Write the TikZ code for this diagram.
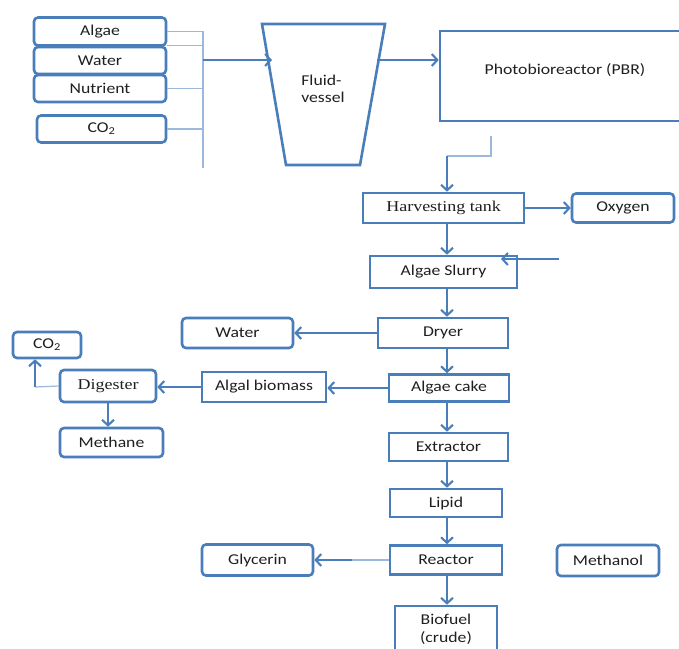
\documentclass[tikz,border=0pt]{standalone}
\usepackage{fontspec}
\setmainfont{Carlito}[FakeStretch=1.18]
\newfontfamily\timesfont{Liberation Serif}[FakeStretch=1.2]
\usetikzlibrary{arrows.meta}
\definecolor{boxblue}{HTML}{4A7EBB}
\definecolor{lightblue}{HTML}{9BB8DD}

\begin{document}
\begin{tikzpicture}[x = 1pt , y = -1pt ,
    box/.style = {draw = boxblue , line width = 2.6pt , inner sep = 0pt , text = black!88 , font = \fontsize{15}{18}\selectfont},
    rbox/.style = {box , rounded corners = 4pt},
    flow/.style = {draw = boxblue , line width = 2.1pt , -{Straight Barb[length = 5.5pt , width = 12pt]}},
    thinline/.style = {draw = lightblue , line width = 1.2pt}]
    \useasboundingbox (0,0) rectangle (679,648);

    % inputs
    \node[rbox , minimum width = 132 , minimum height = 28] (algae) at (100,31.5) {Algae};
    \node[rbox , minimum width = 132 , minimum height = 27] (water) at (100,60.5) {Water};
    \node[rbox , minimum width = 132 , minimum height = 27] (nutrient) at (100,88.5) {Nutrient};
    \node[rbox , minimum width = 129 , minimum height = 27] (co2) at (101.5,129) {CO\textsubscript{2}};
    \coordinate (bustop) at (203,31);
    \coordinate (busend) at (203,168);
    \draw[thinline] (bustop) -- (busend);
    \draw[thinline] (algae.east) -- (algae.east -| bustop);
    \draw[thinline] (water.north east) -- (water.north east -| bustop);
    \draw[thinline] (nutrient.east) -- (nutrient.east -| bustop);
    \draw[thinline] (co2.east) -- (co2.east -| bustop);

    % vessel
    \draw[draw = boxblue , line width = 2.6pt] (262,24) -- (385,24) -- (360,165) -- (286,165) -- cycle;
    \node[align = left , text = black!88 , font = \fontsize{15}{17}\selectfont] (vessel) at (323,89) {Fluid-\\vessel};
    \coordinate (vesselin) at (272,60);
    \coordinate (vesselout) at (377,60);

    \node[box , minimum width = 250 , minimum height = 90 , text height = 11pt , text depth = 15pt] (pbr) at (565,76) {Photobioreactor (PBR)};

    \draw[flow] (bustop |- vesselin) -- (vesselin);
    \draw[flow] (vesselout) -- (vesselout -| pbr.west);

    % main column
    \coordinate (col) at (447,0);
    \node[box , minimum width = 161 , minimum height = 30 , font = \timesfont\fontsize{15}{18}\selectfont] (harvest) at (443.5,208) {Harvesting tank};
    \node[rbox , minimum width = 102 , minimum height = 29] (oxygen) at (623,208) {Oxygen};
    \node[box , minimum width = 147 , minimum height = 32] (slurry) at (443.5,272) {Algae Slurry};
    \node[box , minimum width = 130 , minimum height = 30] (dryer) at (443,333) {Dryer};
    \node[rbox , minimum width = 111 , minimum height = 30] (water2) at (237.5,333) {Water};
    \node[box , minimum width = 120 , minimum height = 27] (cake) at (449,388) {Algae cake};
    \node[box , minimum width = 124 , minimum height = 30] (biomass) at (264,387) {Algal biomass};
    \node[rbox , minimum width = 96 , minimum height = 32 , font = \timesfont\fontsize{15}{18}\selectfont] (digester) at (108,386) {Digester};
    \node[rbox , minimum width = 68 , minimum height = 26] (co2b) at (47,345) {CO\textsubscript{2}};
    \node[rbox , minimum width = 103 , minimum height = 29] (methane) at (111.5,442.5) {Methane};
    \node[box , minimum width = 119 , minimum height = 28] (extractor) at (448.5,447) {Extractor};
    \node[box , minimum width = 112 , minimum height = 28] (lipid) at (446,503) {Lipid};
    \node[box , minimum width = 112 , minimum height = 29] (reactor) at (446,560) {Reactor};
    \node[rbox , minimum width = 102 , minimum height = 31] (methanol) at (608,560.5) {Methanol};
    \node[rbox , minimum width = 111 , minimum height = 31] (glycerin) at (257.5,560) {Glycerin};
    \node[box , minimum width = 102 , minimum height = 46 , align = center] (biofuel) at (446,629) {Biofuel\\(crude)};

    \coordinate (pbrout) at (491,136);
    \coordinate (bend) at (447,156);
    \draw[thinline] (pbrout) |- (bend);
    \draw[flow] (bend) -- (bend |- harvest.north);
    \draw[flow] (harvest.east) -- (harvest.east -| oxygen.west);
    \draw[flow] (harvest.south -| col) -- (slurry.north -| col);
    \coordinate (feed) at (559,259);
    \draw[flow] (feed) -- ++(-58,0); % side feed
    \draw[flow] (slurry.south -| col) -- (dryer.north -| col);
    \draw[flow] (dryer.west) -- (dryer.west -| water2.east);
    \draw[flow] (dryer.south -| col) -- (cake.north -| col);
    \draw[flow] (cake.west) -- (cake.west -| biomass.east);
    \draw[flow] (biomass.west) -- (biomass.west -| digester.east);
    \coordinate (co2turn) at (35,387);
    \draw[thinline] (digester.west) -- (co2turn);
    \draw[flow] (co2turn) -- (co2turn |- co2b.south);
    \draw[flow] (digester.south) -- (digester.south |- methane.north);
    \draw[flow] (cake.south -| col) -- (extractor.north -| col);
    \draw[flow] (extractor.south -| col) -- (lipid.north -| col);
    \draw[flow] (lipid.south -| col) -- (reactor.north -| col);
    \coordinate (glymid) at (352,560);
    \draw[thinline] (reactor.west) -- (glymid);
    \draw[flow] (glymid) -- (glymid -| glycerin.east);
    \draw[flow] (reactor.south -| col) -- (biofuel.north -| col);
\end{tikzpicture}
\end{document}
